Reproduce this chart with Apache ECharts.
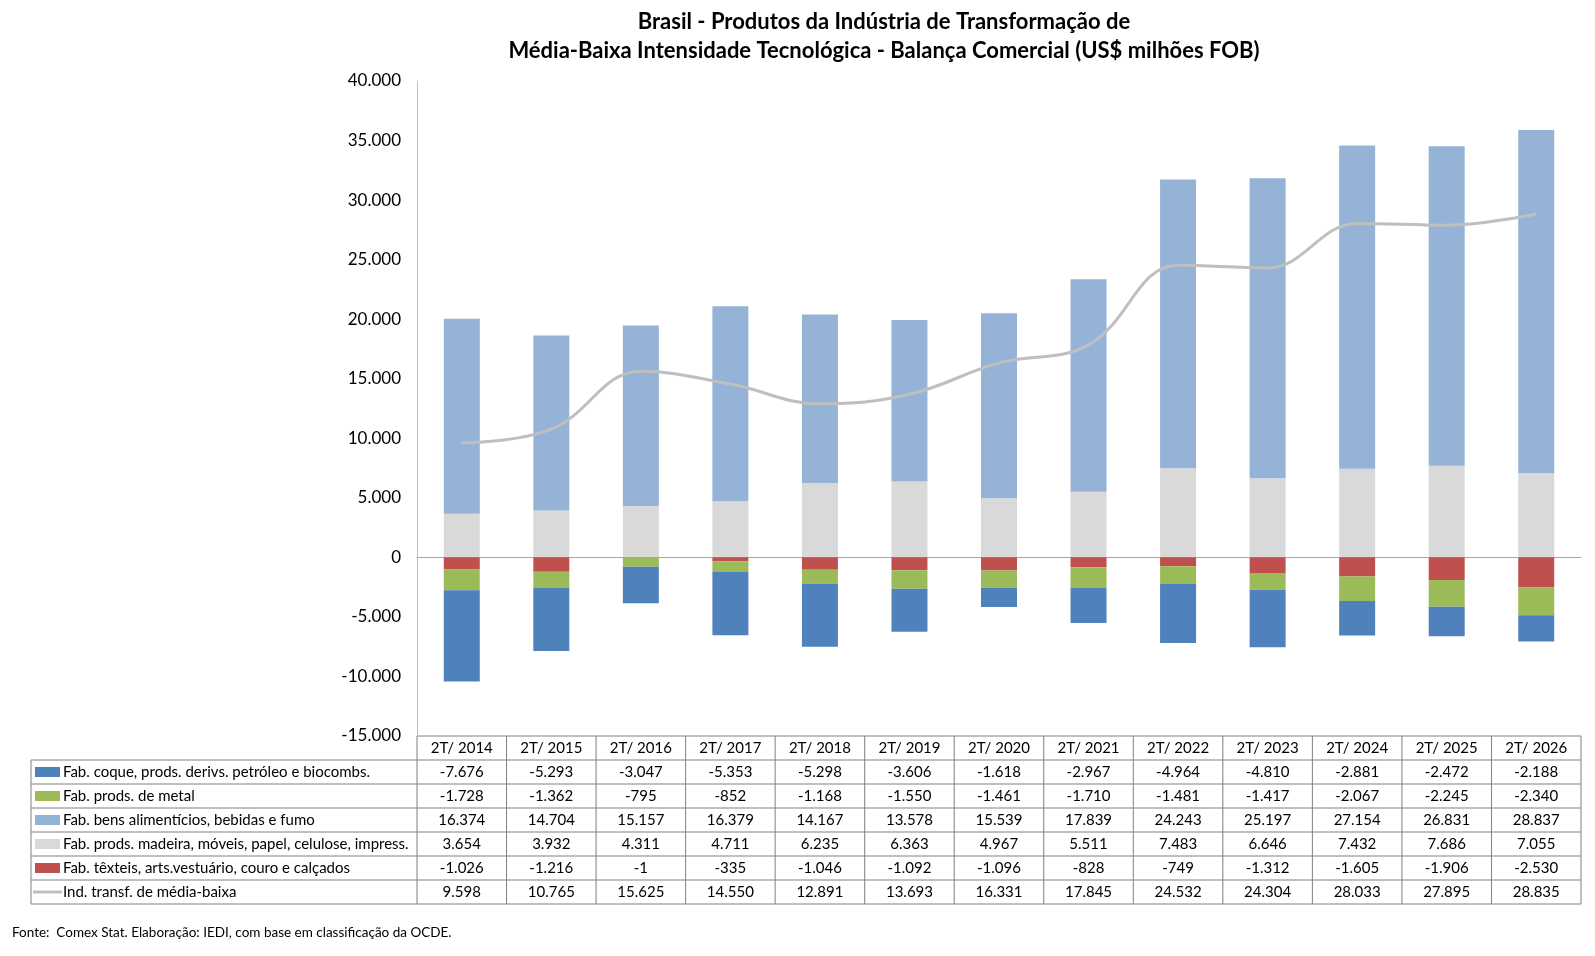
<!DOCTYPE html>
<html>
<head>
<meta charset="utf-8">
<script src="https://cdn.jsdelivr.net/npm/echarts@6/dist/echarts.min.js"></script>
<style>
  html, body { margin: 0; padding: 0; background: #fff; }
  #chart { width: 1595px; height: 956px; }
</style>
</head>
<body>
<div id="chart"></div>
<script>
const categories = ['2T/ 2014', '2T/ 2015', '2T/ 2016', '2T/ 2017', '2T/ 2018', '2T/ 2019', '2T/ 2020',
  '2T/ 2021', '2T/ 2022', '2T/ 2023', '2T/ 2024', '2T/ 2025', '2T/ 2026']

const coque = [-7676, -5293, -3047, -5353, -5298, -3606, -1618, -2967, -4964, -4810, -2881, -2472, -2188]
const metal = [-1728, -1362, -795, -852, -1168, -1550, -1461, -1710, -1481, -1417, -2067, -2245, -2340]
const alimenticios = [16374, 14704, 15157, 16379, 14167, 13578, 15539, 17839, 24243, 25197, 27154, 26831, 28837]
const madeira = [3654, 3932, 4311, 4711, 6235, 6363, 4967, 5511, 7483, 6646, 7432, 7686, 7055]
const texteis = [-1026, -1216, -1, -335, -1046, -1092, -1096, -828, -749, -1312, -1605, -1906, -2530]
const industria = [9598, 10765, 15625, 14550, 12891, 13693, 16331, 17845, 24532, 24304, 28033, 27895, 28835]

const names = {
  coque: 'Fab. coque, prods. derivs. petróleo e biocombs.',
  metal: 'Fab. prods. de metal',
  alimenticios: 'Fab. bens alimentícios, bebidas e fumo',
  madeira: 'Fab. prods. madeira, móveis, papel, celulose, impress.',
  texteis: 'Fab. têxteis, arts.vestuário, couro e calçados',
  industria: 'Ind. transf. de média-baixa'
}

const colors = {
  coque: '#4F81BD',
  metal: '#9BBB59',
  alimenticios: '#95B3D7',
  madeira: '#D9D9D9',
  texteis: '#C0504D',
  industria: '#BFBFBF'
}

const FONT = 'Lato, "Noto Sans", sans-serif'

const fmt = function (v) {
  const s = String(Math.abs(v)).replace(/\B(?=(\d{3})+(?!\d))/g, '.')
  return (v < 0 ? '-' : '') + s
}

const barSeries = function (key, data) {
  return {
    name: names[key],
    type: 'bar',
    stack: 'total',
    barWidth: 36,
    data: data,
    itemStyle: { color: colors[key] },
    emphasis: { disabled: true }
  }
}

const chart = echarts.init(document.getElementById('chart'))

chart.setOption({
  animation: false,
  textStyle: { fontFamily: FONT },
  grid: { left: 417, right: 14, top: 81, bottom: 220, containLabel: false, outerBoundsMode: 'none' },
  xAxis: {
    type: 'category',
    data: categories,
    axisLine: { onZero: true, lineStyle: { color: '#A6A6A6', width: 1 } },
    axisTick: { show: false },
    axisLabel: { show: false }
  },
  yAxis: {
    type: 'value',
    min: -15000,
    max: 40000,
    interval: 5000,
    splitLine: { show: false },
    axisTick: { show: false },
    axisLine: { show: true, lineStyle: { color: '#BFBFBF', width: 1 } },
    axisLabel: { formatter: fmt, fontSize: 17, color: '#000', margin: 16, fontFamily: FONT }
  },
  series: [
    barSeries('madeira', madeira),
    barSeries('alimenticios', alimenticios),
    barSeries('texteis', texteis),
    barSeries('metal', metal),
    barSeries('coque', coque),
    {
      name: names.industria,
      type: 'line',
      data: industria,
      smooth: 0.4,
      symbol: 'none',
      z: 5,
      lineStyle: { color: colors.industria, width: 3 }
    }
  ]
})

// table under the plot, aligned to category positions
const xs = categories.map(c => chart.convertToPixel({ xAxisIndex: 0 }, c))
const colW = xs[1] - xs[0]
const tLeft = xs[0] - colW / 2
const tRight = xs[xs.length - 1] + colW / 2
const tTop = chart.convertToPixel({ yAxisIndex: 0 }, -15000)
const rowH = 24
const legendLeft = 31

const tableRows = [
  { key: 'coque', data: coque, kind: 'bar' },
  { key: 'metal', data: metal, kind: 'bar' },
  { key: 'alimenticios', data: alimenticios, kind: 'bar' },
  { key: 'madeira', data: madeira, kind: 'bar' },
  { key: 'texteis', data: texteis, kind: 'bar' },
  { key: 'industria', data: industria, kind: 'line' }
]

const border = { stroke: '#808080', lineWidth: 1 }
const cellFont = '15px ' + FONT
const g = []
const tBottom = tTop + rowH * (tableRows.length + 1)

// horizontal lines
g.push({ type: 'line', shape: { x1: tLeft, y1: tTop, x2: tRight, y2: tTop }, style: border })
for (let i = 1; i <= tableRows.length + 1; i++) {
  const y = tTop + rowH * i
  g.push({ type: 'line', shape: { x1: legendLeft, y1: y, x2: tRight, y2: y }, style: border })
}
// vertical lines
g.push({ type: 'line', shape: { x1: legendLeft, y1: tTop + rowH, x2: legendLeft, y2: tBottom }, style: border })
for (let i = 0; i <= categories.length; i++) {
  const x = tLeft + colW * i
  g.push({ type: 'line', shape: { x1: x, y1: tTop, x2: x, y2: tBottom }, style: border })
}
// header
categories.forEach((c, i) => {
  g.push({
    type: 'text',
    style: { text: c, x: xs[i], y: tTop + rowH / 2, align: 'center', verticalAlign: 'middle',
      font: cellFont, fill: '#000' }
  })
})
// rows
tableRows.forEach((r, ri) => {
  const cy = tTop + rowH * (ri + 1) + rowH / 2
  if (r.kind === 'bar') {
    g.push({ type: 'rect', shape: { x: 35, y: cy - 5, width: 25, height: 10 }, style: { fill: colors[r.key] } })
  } else {
    g.push({ type: 'line', shape: { x1: 33, y1: cy, x2: 62, y2: cy }, style: { stroke: colors[r.key], lineWidth: 3 } })
  }
  g.push({
    type: 'text',
    style: { text: names[r.key], x: 63, y: cy, align: 'left', verticalAlign: 'middle',
      font: cellFont, fill: '#000' }
  })
  r.data.forEach((v, i) => {
    g.push({
      type: 'text',
      style: { text: fmt(v), x: xs[i], y: cy, align: 'center', verticalAlign: 'middle',
        font: cellFont, fill: '#000' }
    })
  })
})

// title and source
g.push({
  type: 'text',
  style: { text: 'Brasil - Produtos da Indústria de Transformação de', x: 884, y: 22,
    align: 'center', verticalAlign: 'middle', font: 'bold 22px ' + FONT, fill: '#000' }
})
g.push({
  type: 'text',
  style: { text: 'Média-Baixa Intensidade Tecnológica - Balança Comercial (US$ milhões FOB)', x: 884, y: 51,
    align: 'center', verticalAlign: 'middle', font: 'bold 22px ' + FONT, fill: '#000' }
})
g.push({
  type: 'text',
  style: { text: 'Fonte:  Comex Stat. Elaboração: IEDI, com base em classificação da OCDE.', x: 12, y: 933,
    align: 'left', verticalAlign: 'middle', font: '13.5px ' + FONT, fill: '#000' }
})

chart.setOption({ graphic: g.map(e => Object.assign({ silent: true }, e)) })
</script>
</body>
</html>
